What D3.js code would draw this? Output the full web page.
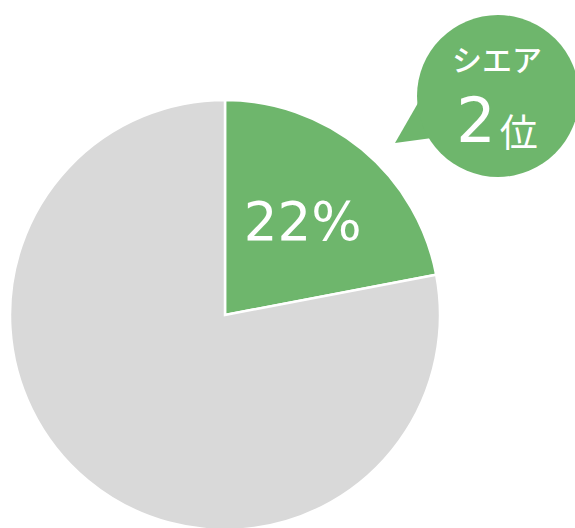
<!DOCTYPE html>
<html>
<head>
<meta charset="utf-8">
<script src="https://cdn.jsdelivr.net/npm/d3@7"></script>
<style>
  body { margin: 0; background: #fff; }
  svg { display: block; }
</style>
</head>
<body>
<div id="svg-holder"></div>
<script>
// share data
let categories = ["自社", "その他"]
let shares = [22, 78]
let sliceColors = ["#6eb66c", "#d9d9d9"]
let rankLabel = "シエア"
let rankValue = "2"
let rankUnit = "位"

let width = 575, height = 528
let cx = 225, cy = 315, radius = 215

let svg = d3.select("#svg-holder")
    .append("svg")
    .attr("width", width)
    .attr("height", height)

let data = categories.map((c, i) => ({name: c, value: shares[i], color: sliceColors[i]}))

let pie = d3.pie()
    .value(d => d.value)
    .sort(null)

let arc = d3.arc()
    .innerRadius(0)
    .outerRadius(radius)

let labelArc = d3.arc()
    .innerRadius(122)
    .outerRadius(122)

let g = svg.append("g")
    .attr("transform", "translate(" + cx + "," + cy + ")")

let arcs = pie(data)

g.selectAll("path")
    .data(arcs)
    .join("path")
        .attr("d", arc)
        .attr("fill", d => d.data.color)
        .attr("stroke", "#fff")
        .attr("stroke-width", 2.5)
        .attr("stroke-linejoin", "miter")

// percent label on the first slice only
g.selectAll("text.pct")
    .data(arcs.slice(0, 1))
    .join("text")
        .attr("class", "pct")
        .attr("transform", d => "translate(" + labelArc.centroid(d) + ")")
        .attr("text-anchor", "middle")
        .attr("dy", "0.36em")
        .attr("font-family", "DejaVu Sans, sans-serif")
        .attr("font-size", 53)
        .attr("fill", "#fff")
        .text(d => d.data.value + "%")

// speech bubble
let bx = 498, by = 96, br = 81
let bubble = svg.append("g")
bubble.append("path")
    .attr("d", d3.line()([[418, 103], [395, 143], [432, 138]]))
    .attr("fill", sliceColors[0])
bubble.append("circle")
    .attr("cx", bx)
    .attr("cy", by)
    .attr("r", br)
    .attr("fill", sliceColors[0])

bubble.append("text")
    .attr("x", bx - 1)
    .attr("y", 71)
    .attr("text-anchor", "middle")
    .attr("font-family", "Noto Sans CJK JP, sans-serif")
    .attr("font-size", 30)
    .attr("font-weight", 500)
    .attr("fill", "#fff")
    .text(rankLabel)

let rank = bubble.append("text")
    .attr("x", bx - 1)
    .attr("y", 142)
    .attr("text-anchor", "middle")
    .attr("fill", "#fff")
rank.append("tspan")
    .attr("font-family", "DejaVu Sans, sans-serif")
    .attr("font-size", 62)
    .text(rankValue)
rank.append("tspan")
    .attr("font-family", "Noto Sans CJK JP, sans-serif")
    .attr("font-size", 38)
    .attr("dx", 4)
    .attr("dy", 4)
    .text(rankUnit)
</script>
</body>
</html>
